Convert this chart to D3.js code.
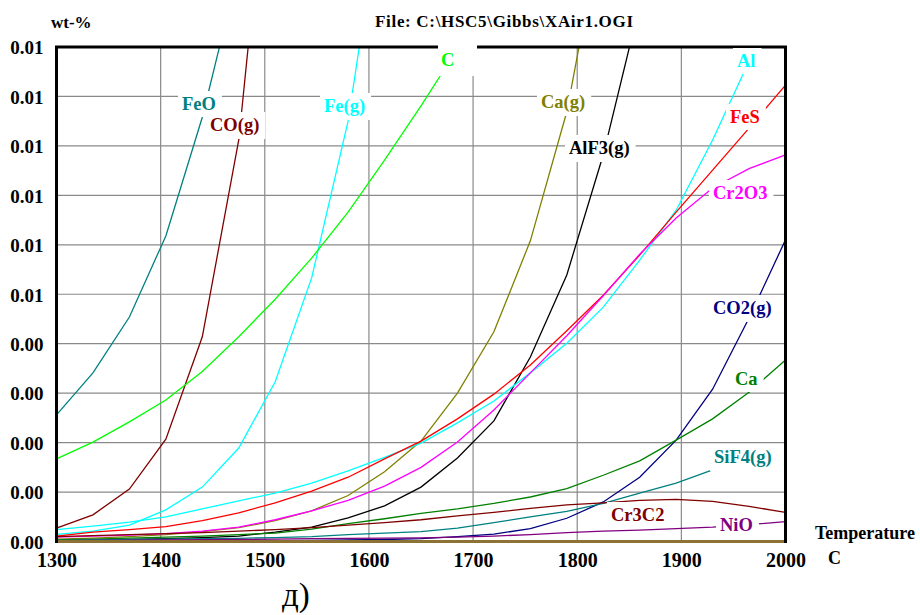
<!DOCTYPE html>
<meta charset="utf-8">
<head>
    <title>XAir1</title>
    <script src="https://cdn.jsdelivr.net/npm/d3@7"></script>
</head>

<style>
    body { margin: 0; background: #fff; }
    text { font-family: "Liberation Serif", "Times New Roman", serif; font-weight: bold; }
    .grid line { stroke: #8a8a8a; stroke-width: 1.2; }
    .series { fill: none; stroke-width: 1.3; }
</style>

<svg></svg>

<script>
    // My variables
    var vWidth = 920;
    var vHeight = 615;

    // temperature steps, C
    var temps = [1300, 1335, 1370, 1405, 1440, 1475, 1510, 1545, 1580, 1615, 1650,
                 1685, 1720, 1755, 1790, 1825, 1860, 1895, 1930, 1965, 2000];

    // wt-% (points above the frame get clipped)
    var feo   = [0.00256, 0.00341, 0.00454, 0.00618, 0.00858, 0.0116];
    var cog   = [0.00027, 0.00054, 0.00106, 0.00207, 0.00414, 0.00812, 0.0154];
    var c     = [0.00167, 0.00201, 0.00242, 0.00286, 0.00344, 0.00414, 0.00490, 0.00573, 0.00666,
                 0.00771, 0.00881, 0.00996, 0.0111];
    var feg   = [0.000146, 0.00021, 0.00033, 0.00064, 0.00110, 0.00189, 0.00323, 0.00533, 0.00850, 0.0134];
    var al    = [0.00024, 0.00031, 0.00039, 0.00050, 0.00066, 0.00082, 0.00098, 0.00118, 0.00143, 0.00170,
                 0.00199, 0.00240, 0.00284, 0.00341, 0.00401, 0.00474, 0.00569, 0.00670, 0.00812, 0.00971, 0.0115];
    var fes   = [0.00011, 0.00019, 0.00024, 0.00030, 0.00042, 0.00058, 0.00078, 0.00102, 0.00130, 0.00167,
                 0.00203, 0.00248, 0.00298, 0.00357, 0.00426, 0.00498, 0.00579, 0.00666, 0.00751, 0.00836, 0.00923];
    var cr2o3 = [0.00009, 0.00011, 0.00013, 0.00016, 0.00021, 0.00029, 0.00044, 0.00062, 0.00083, 0.00112,
                 0.00150, 0.00201, 0.00266, 0.00341, 0.00416, 0.00497, 0.00581, 0.00654, 0.00715, 0.00754, 0.00782];
    var cag   = [0.00005, 0.00007, 0.00010, 0.00014, 0.00020, 0.00028, 0.00042, 0.00062, 0.00093, 0.00141,
                 0.00203, 0.00300, 0.00424, 0.00608, 0.00869, 0.0126];
    var alf3g = [0.00002, 0.00003, 0.00004, 0.00006, 0.00008, 0.00011, 0.00019, 0.00029, 0.00048, 0.00072,
                 0.00110, 0.00169, 0.00244, 0.00373, 0.00539, 0.00782, 0.01085];
    var ca    = [0.00003, 0.00005, 0.00007, 0.00009, 0.00011, 0.00014, 0.00017, 0.00025, 0.00036, 0.00046,
                 0.00057, 0.00066, 0.00077, 0.00090, 0.00107, 0.00134, 0.00163, 0.00205, 0.00248, 0.00302, 0.00367];
    var co2g  = [0.00001, 0.00001, 0.00001, 0.00001, 0.00001, 0.000015, 0.000015, 0.00002, 0.00003, 0.00004,
                 0.00006, 0.00010, 0.00015, 0.00026, 0.00047, 0.00080, 0.00130, 0.00205, 0.00308, 0.00452, 0.00610];
    var sif4g = [0.00002, 0.00003, 0.00004, 0.00005, 0.00006, 0.000065, 0.00008, 0.00010, 0.00014, 0.00017,
                 0.00020, 0.00027, 0.00038, 0.00050, 0.00061, 0.00077, 0.00098, 0.00118, 0.00145, 0.00171];
    var cr3c2 = [0.00010, 0.00012, 0.00014, 0.00016, 0.00018, 0.00021, 0.00024, 0.00028, 0.00033, 0.00038,
                 0.00044, 0.00052, 0.00059, 0.00067, 0.00074, 0.00078, 0.00083, 0.00085, 0.00081, 0.00071, 0.00059];
    var nio   = [0.000015, 0.00002, 0.000025, 0.00003, 0.000035, 0.00004, 0.00005, 0.00006, 0.000065, 0.00007,
                 0.000075, 0.00009, 0.00011, 0.00014, 0.00018, 0.00021, 0.00023, 0.00026, 0.00029, 0.00034, 0.00040];

    var xTicks = [1300, 1400, 1500, 1600, 1700, 1800, 1900, 2000];
    var yTicks = [0, 0.001, 0.002, 0.003, 0.004, 0.005, 0.006, 0.007, 0.008, 0.009, 0.01];
    var yTickLabels = ["0.00", "0.00", "0.00", "0.00", "0.00", "0.01", "0.01", "0.01", "0.01", "0.01", "0.01"];

    // name, values, colour, label position (left x, baseline y)
    var series = [
        {name: "FeO",     values: feo,   color: "#008080", lx: 182, ly: 110},
        {name: "CO(g)",   values: cog,   color: "#800000", lx: 210, ly: 131},
        {name: "Fe(g)",   values: feg,   color: "#00ffff", lx: 324, ly: 112},
        {name: "C",       values: c,     color: "#00ff00", lx: 441, ly: 66, box: [438, 44, 39, 32]},
        {name: "Ca(g)",   values: cag,   color: "#808000", lx: 541, ly: 108},
        {name: "AlF3(g)", values: alf3g, color: "#000000", lx: 569, ly: 154},
        {name: "Al",      values: al,    color: "#00ffff", lx: 737, ly: 67},
        {name: "FeS",     values: fes,   color: "#ff0000", lx: 730, ly: 123},
        {name: "Cr2O3",   values: cr2o3, color: "#ff00ff", lx: 713, ly: 199},
        {name: "CO2(g)",  values: co2g,  color: "#000080", lx: 713, ly: 314},
        {name: "Ca",      values: ca,    color: "#008000", lx: 735, ly: 385},
        {name: "SiF4(g)", values: sif4g, color: "#008080", lx: 714, ly: 463},
        {name: "Cr3C2",   values: cr3c2, color: "#800000", lx: 611, ly: 521},
        {name: "NiO",     values: nio,   color: "#800080", lx: 720, ly: 531}
    ];

    var pLeft = 56.5, pRight = 785.5, pTop = 47, pBottom = 541.5;

    var svg = d3.select('svg')
        .attr('width', vWidth)
        .attr('height', vHeight);

    var x = d3.scaleLinear().domain([1300, 2000]).range([pLeft, pRight]);
    var y = d3.scaleLinear().domain([0, 0.01]).range([pBottom, pTop]);

    svg.append('clipPath').attr('id', 'plot')
        .append('rect')
        .attr('x', pLeft).attr('y', pTop)
        .attr('width', pRight - pLeft).attr('height', pBottom - pTop);

    // grid
    var grid = svg.append('g').attr('class', 'grid');
    grid.selectAll('line.v').data(xTicks.slice(1, -1)).enter().append('line')
        .attr('x1', function (d) { return x(d); }).attr('x2', function (d) { return x(d); })
        .attr('y1', pTop).attr('y2', pBottom);
    grid.selectAll('line.h').data(yTicks.slice(1, -1)).enter().append('line')
        .attr('x1', pLeft).attr('x2', pRight)
        .attr('y1', function (d) { return y(d); }).attr('y2', function (d) { return y(d); });

    // curves
    var line = d3.line()
        .x(function (d, i) { return x(temps[i]); })
        .y(function (d) { return y(d); });

    svg.append('g').attr('clip-path', 'url(#plot)')
        .selectAll('path').data(series).enter().append('path')
        .attr('class', 'series')
        .attr('stroke', function (d) { return d.color; })
        .attr('d', function (d) { return line(d.values); });

    // frame
    var frame = svg.append('g').attr('fill', 'none');
    frame.append('line').attr('x1', pLeft).attr('x2', pRight).attr('y1', pBottom).attr('y2', pBottom)
        .attr('stroke', '#8c7234').attr('stroke-width', 3);
    frame.append('path')
        .attr('d', 'M' + pLeft + ',' + (pBottom + 1.5) + 'V' + pTop + 'H' + pRight + 'V' + (pBottom + 1.5))
        .attr('stroke', '#000').attr('stroke-width', 3);

    // axes
    var xAxis = d3.axisBottom(x).tickValues(xTicks).tickSize(0).tickFormat(d3.format('d'));
    var gx = svg.append('g').attr('transform', 'translate(0,' + pBottom + ')').call(xAxis);
    gx.select('.domain').remove();
    gx.selectAll('text').attr('dy', null).attr('y', 25)
        .style('font-size', '20px').attr('font-family', null).attr('fill', '#000');

    var yAxis = d3.axisLeft(y).tickValues(yTicks).tickSize(0)
        .tickFormat(function (d, i) { return yTickLabels[i]; });
    var gy = svg.append('g').attr('transform', 'translate(' + pLeft + ',0)').call(yAxis);
    gy.select('.domain').remove();
    gy.selectAll('text').attr('dy', '0.36em').attr('x', -13)
        .style('font-size', '19px').attr('font-family', null).attr('fill', '#000');

    // series labels with white boxes
    var labels = svg.append('g');
    series.forEach(function (s) {
        var g = labels.append('g');
        var t = g.append('text')
            .attr('x', s.lx).attr('y', s.ly)
            .attr('fill', s.color)
            .style('font-size', '18.5px')
            .text(s.name);
        var b = t.node().getBBox();
        var r = s.box || [b.x - 4, b.y - 3, b.width + 10, b.height + 6];
        g.insert('rect', 'text')
            .attr('x', r[0]).attr('y', r[1])
            .attr('width', r[2]).attr('height', r[3])
            .attr('fill', '#fff');
    });

    // titles
    svg.append('text').attr('x', 51).attr('y', 28).style('font-size', '17px').text('wt-%');
    svg.append('text').attr('x', 375).attr('y', 27).style('font-size', '17px')
        .attr('textLength', 258).text('File: C:\\HSC5\\Gibbs\\XAir1.OGI');
    svg.append('text').attr('x', 815).attr('y', 539).style('font-size', '18px').text('Temperature');
    svg.append('text').attr('x', 828).attr('y', 564).style('font-size', '18px').text('C');
    svg.append('text').attr('x', 282).attr('y', 606)
        .style('font-size', '33px').style('font-weight', 'normal').text('д)');
</script>
